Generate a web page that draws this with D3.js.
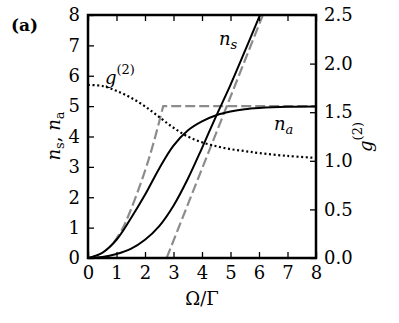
<!DOCTYPE html>
<html>
<head>
<meta charset="utf-8">
<script src="https://cdn.jsdelivr.net/npm/d3@7"></script>
<style>
  body { margin: 0; background: #fff; }
</style>
</head>
<body>
<svg id="chart"></svg>
<script>
// x values (Omega / Gamma) and curves
const xGrid = [0, 0.5, 1, 1.5, 2, 2.5, 3, 3.5, 4, 4.5, 5, 5.5, 6, 7, 8];
const naValues = [0, 0.17, 0.6, 1.3, 2.08, 2.95, 3.7, 4.2, 4.5, 4.7, 4.82, 4.9, 4.94, 4.98, 4.99];
const g2Values = [1.78, 1.77, 1.72, 1.65, 1.56, 1.45, 1.34, 1.25, 1.19, 1.15, 1.12, 1.10, 1.08, 1.05, 1.03];

const nsX = [0, 0.5, 1, 1.5, 2, 2.5, 3, 3.5, 4, 4.5, 5, 5.5, 6, 6.2];
const nsValues = [0, 0.03, 0.13, 0.3, 0.6, 1.05, 1.72, 2.6, 3.62, 4.68, 5.7, 6.8, 7.92, 8.35];

// dashed approximations
const naApproxX = [0.9, 1.2, 1.5, 2, 2.3, 2.64];
const naApproxY = [0.5, 0.95, 1.58, 2.87, 3.79, 5.0];
const naPlateauX = [2.64, 8];
const naPlateauY = [5, 5];
const nsAsymX = [2.76, 6.25];
const nsAsymY = [0, 8.27];

const xTicks = [0, 1, 2, 3, 4, 5, 6, 7, 8];
const nTicks = [0, 1, 2, 3, 4, 5, 6, 7, 8];
const g2Ticks = [0, 0.5, 1.0, 1.5, 2.0, 2.5];

const W = 399, H = 323;
const mLeft = 88, mTop = 15, pw = 228, ph = 243;
const serif = "'DejaVu Serif', 'Liberation Serif', serif";

const svg = d3.select("#chart").attr("width", W).attr("height", H)
  .style("font-family", serif);

const x = d3.scaleLinear().domain([0, 8]).range([mLeft, mLeft + pw]);
const y = d3.scaleLinear().domain([0, 8]).range([mTop + ph, mTop]);
const yR = d3.scaleLinear().domain([0, 2.5]).range([mTop + ph, mTop]);

svg.append("clipPath").attr("id", "clip")
  .append("rect").attr("x", mLeft).attr("y", mTop).attr("width", pw).attr("height", ph);

const plot = svg.append("g").attr("clip-path", "url(#clip)");

const zip = (xs, ys) => xs.map((v, i) => [v, ys[i]]);

const smooth = d3.line().x(d => x(d[0])).y(d => y(d[1])).curve(d3.curveCatmullRom.alpha(0.5));
const straight = d3.line().x(d => x(d[0])).y(d => y(d[1]));
const smoothR = d3.line().x(d => x(d[0])).y(d => yR(d[1])).curve(d3.curveCatmullRom.alpha(0.5));

// gray dashed approximations
const dashed = { stroke: "#8c8c8c", width: 2.2, dash: "10,4" };
plot.append("path")
  .attr("d", smooth(zip(naApproxX, naApproxY)) + straight(zip(naPlateauX, naPlateauY)).replace("M", "L"))
  .attr("fill", "none").attr("stroke", dashed.stroke).attr("stroke-width", dashed.width)
  .attr("stroke-dasharray", dashed.dash);
plot.append("path")
  .attr("d", straight(zip(nsAsymX, nsAsymY)))
  .attr("fill", "none").attr("stroke", dashed.stroke).attr("stroke-width", dashed.width)
  .attr("stroke-dasharray", dashed.dash);

// g2 dotted
plot.append("path")
  .attr("d", smoothR(zip(xGrid, g2Values)))
  .attr("fill", "none").attr("stroke", "#000").attr("stroke-width", 2.2)
  .attr("stroke-dasharray", "2,2.6");

// solid curves
plot.append("path")
  .attr("d", smooth(zip(xGrid, naValues)))
  .attr("fill", "none").attr("stroke", "#000").attr("stroke-width", 2);
plot.append("path")
  .attr("d", smooth(zip(nsX, nsValues)))
  .attr("fill", "none").attr("stroke", "#000").attr("stroke-width", 2);

// axes, ticks inward
const tickLen = 6;
const fs = 18;

const ax = (axis, tx) => svg.append("g").attr("transform", tx).call(axis)
  .call(g => g.select(".domain").remove())
  .call(g => g.selectAll(".tick line").attr("stroke-width", 1.3))
  .call(g => g.selectAll("text").attr("font-size", fs).style("font-family", serif));

ax(d3.axisBottom(x).tickValues(xTicks).tickSize(-tickLen).tickPadding(8).tickFormat(d3.format("d")),
   `translate(0,${mTop + ph})`);
ax(d3.axisTop(x).tickValues(xTicks).tickSize(-tickLen).tickFormat(""),
   `translate(0,${mTop})`);
ax(d3.axisLeft(y).tickValues(nTicks).tickSize(-tickLen).tickPadding(8).tickFormat(d3.format("d")),
   `translate(${mLeft},0)`);
ax(d3.axisRight(yR).tickValues(g2Ticks).tickSize(-tickLen).tickPadding(8).tickFormat(d3.format(".1f")),
   `translate(${mLeft + pw},0)`);

svg.append("rect").attr("x", mLeft).attr("y", mTop).attr("width", pw).attr("height", ph)
  .attr("fill", "none").attr("stroke", "#000").attr("stroke-width", 2.5);

// in-plot labels
const t1 = svg.append("text").attr("x", 219).attr("y", 45).attr("font-size", fs);
t1.append("tspan").attr("font-style", "italic").text("n");
t1.append("tspan").attr("font-style", "italic").attr("font-size", 13).attr("dy", 4).text("s");

const t2 = svg.append("text").attr("x", 274).attr("y", 130).attr("font-size", fs);
t2.append("tspan").attr("font-style", "italic").text("n");
t2.append("tspan").attr("font-style", "italic").attr("font-size", 13).attr("dy", 4).text("a");

const t3 = svg.append("text").attr("x", 105).attr("y", 84).attr("font-size", fs);
t3.append("tspan").attr("font-style", "italic").text("g");
t3.append("tspan").attr("font-size", 13).attr("dy", -10).text("(2)");

// axis titles
svg.append("text").attr("x", mLeft + pw / 2).attr("y", 305).attr("text-anchor", "middle")
  .attr("font-size", fs).text("Ω/Γ");

const yl = svg.append("text").attr("transform", "translate(60,136) rotate(-90)")
  .attr("text-anchor", "middle").attr("font-size", fs);
yl.append("tspan").attr("font-style", "italic").text("n");
yl.append("tspan").attr("font-size", 13).attr("dy", 4).text("s");
yl.append("tspan").attr("dy", -4).text(", ");
yl.append("tspan").attr("font-style", "italic").text("n");
yl.append("tspan").attr("font-size", 13).attr("dy", 4).text("a");

const yr = svg.append("text").attr("transform", "translate(372,137) rotate(-90)")
  .attr("text-anchor", "middle").attr("font-size", fs);
yr.append("tspan").attr("font-style", "italic").text("g");
yr.append("tspan").attr("font-size", 13).attr("dy", -10).text("(2)");

svg.append("text").attr("x", 11).attr("y", 31).attr("font-size", 17).attr("font-weight", "bold").text("(a)");
</script>
</body>
</html>
